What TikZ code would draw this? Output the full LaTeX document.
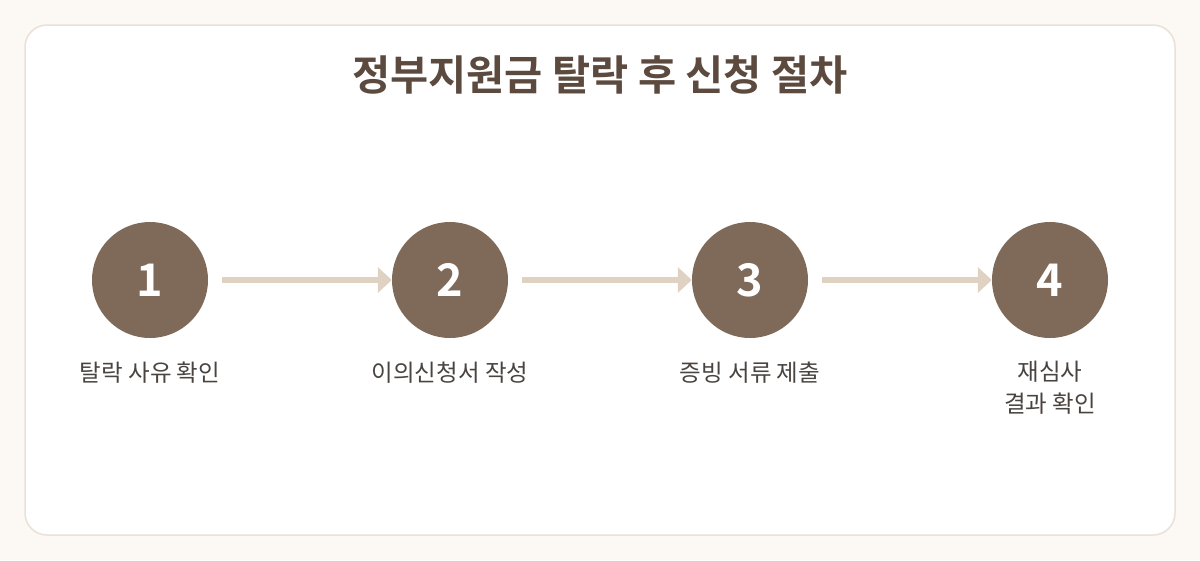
\documentclass[tikz,border=0pt]{standalone}
\usepackage{fontspec}
\setmainfont{Noto Sans CJK KR}
\newfontfamily\krbold{Noto Sans CJK KR Bold}
\usetikzlibrary{arrows.meta}
\definecolor{bgc}{HTML}{FCF8F3}
\definecolor{panelborder}{HTML}{E9E1D8}
\definecolor{circc}{HTML}{7F6A5A}
\definecolor{arrowc}{HTML}{E0D2C2}
\definecolor{titlec}{HTML}{5C4A3E}
\definecolor{labelc}{HTML}{4A4440}
\tikzset{
  stepcircle/.style={circle, fill=circc, minimum size=116pt, inner sep=0pt,
    text=white, font=\krbold\fontsize{45}{45}\selectfont},
  steplabel/.style={text=labelc, font=\fontsize{23.5}{32}\selectfont, align=center, anchor=north},
  flowarrow/.style={draw=arrowc, line width=6pt,
    -{Triangle[length=14pt,width=25pt]}, shorten <=14pt},
}
\begin{document}
\begin{tikzpicture}[x=1pt,y=-1pt]
\useasboundingbox (0,0) rectangle (1200,560);
\fill[bgc] (0,0) rectangle (1200,560);
\draw[panelborder, fill=white, line width=1.5pt, rounded corners=22pt] (25,25) rectangle (1175,535);
\node[text=titlec, font=\krbold\fontsize{41.5}{41.5}\selectfont] (title) at (600,75) {정부지원금 탈락 후 신청 절차};
\node[stepcircle] (c1) at (150,280) {1};
\node[stepcircle] (c2) at (450,280) {2};
\node[stepcircle] (c3) at (750,280) {3};
\node[stepcircle] (c4) at (1050,280) {4};
\draw[flowarrow] (c1) -- (c2);
\draw[flowarrow] (c2) -- (c3);
\draw[flowarrow] (c3) -- (c4);
\node[steplabel] (l1) at (150,358) {탈락 사유 확인};
\node[steplabel] (l2) at (450,358) {이의신청서 작성};
\node[steplabel] (l3) at (750,358) {증빙 서류 제출};
\node[steplabel] (l4) at (1050,358) {재심사\\결과 확인};
\end{tikzpicture}
\end{document}
